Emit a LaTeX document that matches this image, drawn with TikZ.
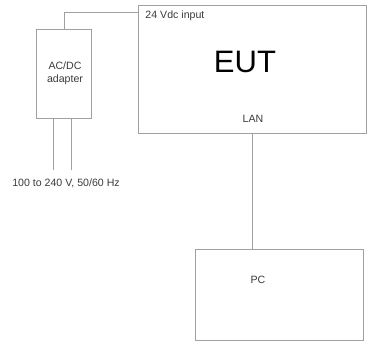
\documentclass[tikz,border=0pt]{standalone}
\usepackage{fontspec}
\setmainfont{Liberation Sans}
\usetikzlibrary{positioning, calc}
\definecolor{wire}{HTML}{A0A0A0}
\definecolor{txtgray}{HTML}{3A3A3A}

\begin{document}
\begin{tikzpicture}[x=1pt, y=-1pt, line width=1pt,
  box/.style={draw=wire, line width=1pt, inner sep=0pt},
  small/.style={font=\fontsize{10.6}{13}\selectfont, text=txtgray, inner sep=0pt}]

\useasboundingbox (0,0) rectangle (368,341);

% Boxes
\node[box, minimum width=228pt, minimum height=128pt] (eut) at (253,69) {};
\node[box, minimum width=55pt, minimum height=89pt] (adapter) at (64.5,73.5) {};
\node[box, minimum width=168pt, minimum height=91pt] (pc) at (280,294.5) {};

% Labels
\node[font=\fontsize{31}{31}\selectfont, text=black] (eutlabel) at (245,62) {EUT};
\node[small, anchor=west] (dcin) at (145,16) {24 Vdc input};
\node[small] (lan) at (253,119) {LAN};
\node[small, align=center] (adlabel) at (65,73.5) {AC/DC\\adapter};
\node[small] (pclabel) at (258,280) {PC};
\node[small] (mains) at (66,183) {100 to 240 V, 50/60 Hz};

% Mains wires
\coordinate (mainsa) at (54,170);
\coordinate (mainsb) at (72,170);
\draw[wire] (adapter.south -| mainsa) -- (mainsa);
\draw[wire] (adapter.south -| mainsb) -- (mainsb);

% DC supply to EUT
\draw[wire] (adapter.north) |- ($(eut.north west)+(0,8)$);

% LAN cable
\draw[wire] (eut.south) -- (eut.south |- pc.north);

\end{tikzpicture}
\end{document}
